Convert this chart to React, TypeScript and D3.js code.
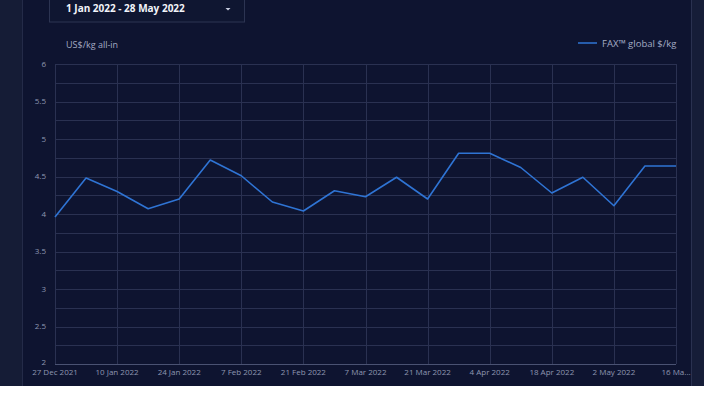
import React, { useEffect, useRef } from 'react';
import * as d3 from 'd3';

const width = 704;
const height = 394;

// weekly readings, starting 27 Dec 2021
const weekStarts = [
  '2021-12-27', '2022-01-03', '2022-01-10', '2022-01-17', '2022-01-24', '2022-01-31',
  '2022-02-07', '2022-02-14', '2022-02-21', '2022-02-28', '2022-03-07', '2022-03-14',
  '2022-03-21', '2022-03-28', '2022-04-04', '2022-04-11', '2022-04-18', '2022-04-25',
  '2022-05-02', '2022-05-09', '2022-05-16'
];
const faxGlobal = [
  3.96, 4.48, 4.30, 4.07, 4.20, 4.72,
  4.51, 4.16, 4.04, 4.31, 4.23, 4.49,
  4.20, 4.81, 4.81, 4.62, 4.28, 4.49,
  4.11, 4.64, 4.64
];
const xTickLabels = [
  '27 Dec 2021', '10 Jan 2022', '24 Jan 2022', '7 Feb 2022', '21 Feb 2022', '7 Mar 2022',
  '21 Mar 2022', '4 Apr 2022', '18 Apr 2022', '2 May 2022', '16 Ma...'
];
const yTicks = [2, 2.5, 3, 3.5, 4, 4.5, 5, 5.5, 6];

const parse = d3.timeParse('%Y-%m-%d');

export default function App() {
  const svgRef = useRef<SVGSVGElement>(null);

  useEffect(() => {
    if (!svgRef.current) return;
    const svg = d3.select(svgRef.current);
    svg.selectAll('*').remove();

    const font = "'Open Sans', 'Noto Sans', sans-serif";
    const margin = { top: 64, right: 28, bottom: 30, left: 55 };
    const innerW = width - margin.left - margin.right;
    const innerH = height - margin.top - margin.bottom;

    // page frame
    svg.append('rect').attr('width', width).attr('height', height).attr('fill', '#ffffff');
    svg.append('rect').attr('width', width).attr('height', 386).attr('fill', '#0e1430');
    svg.append('rect').attr('width', 22).attr('height', 386).attr('fill', '#151c36');
    svg.append('line').attr('x1', 22.5).attr('x2', 22.5).attr('y1', 0).attr('y2', 386)
      .attr('stroke', '#242b48');
    svg.append('rect').attr('x', 692).attr('width', 12).attr('height', 386).attr('fill', '#161d38');
    svg.append('line').attr('x1', 691.5).attr('x2', 691.5).attr('y1', 0).attr('y2', 386)
      .attr('stroke', '#2a3150');

    // date range selector
    svg.append('rect').attr('x', 49.5).attr('y', -2).attr('width', 195).attr('height', 24)
      .attr('fill', '#0f1631').attr('stroke', '#2c3452');
    svg.append('text').attr('x', 66).attr('y', 12).attr('fill', '#f2f4fa')
      .style('font-family', font).style('font-size', '10px').style('font-weight', 700)
      .text('1 Jan 2022 - 28 May 2022');
    svg.append('path').attr('d', 'M225.5,8 L230.5,8 L228,10.5 Z').attr('fill', '#c8cde0');

    svg.append('text').attr('x', 66).attr('y', 48).attr('fill', '#a3abc4')
      .style('font-family', font).style('font-size', '9px').text('US$/kg all-in');

    const dates = weekStarts.map(d => parse(d) as Date);
    const x = d3.scaleTime()
      .domain([dates[0], dates[dates.length - 1]])
      .range([0, innerW]);
    const y = d3.scaleLinear().domain([2, 6]).range([innerH, 0]);

    const g = svg.append('g').attr('transform', `translate(${margin.left},${margin.top})`);

    // horizontal grid every 0.25
    const hGrid = d3.range(2, 6.001, 0.25);
    g.selectAll('.hgrid').data(hGrid).enter().append('line')
      .attr('x1', 0).attr('x2', innerW)
      .attr('y1', d => Math.round(y(d)) + 0.5).attr('y2', d => Math.round(y(d)) + 0.5)
      .attr('stroke', d => (d === 2 ? '#4a5272' : '#2a3151')).attr('stroke-width', 1);

    // vertical grid every 2 weeks
    const vDates = dates.filter((_, i) => i % 2 === 0);
    g.selectAll('.vgrid').data(vDates).enter().append('line')
      .attr('y1', 0).attr('y2', innerH)
      .attr('x1', d => Math.round(x(d)) + 0.5).attr('x2', d => Math.round(x(d)) + 0.5)
      .attr('stroke', '#2a3151');

    // y tick labels
    g.selectAll('.ylab').data(yTicks).enter().append('text')
      .attr('x', -9).attr('y', d => y(d)).attr('dy', d => (d === 2 ? '0.1em' : '0.33em'))
      .attr('text-anchor', 'end').attr('fill', '#8f97b0')
      .style('font-family', font).style('font-size', '8px')
      .text(d => String(d));

    // x tick labels
    g.selectAll('.xlab').data(vDates).enter().append('text')
      .attr('x', d => x(d)).attr('y', innerH + 11)
      .attr('text-anchor', 'middle').attr('fill', '#8f97b0')
      .style('font-family', font).style('font-size', '8px')
      .text((_, i) => xTickLabels[i]);

    // series
    const line = d3.line<number>()
      .x((_, i) => x(dates[i]))
      .y(d => y(d));
    g.append('path').datum(faxGlobal)
      .attr('fill', 'none').attr('stroke', '#2f74d4').attr('stroke-width', 1.6)
      .attr('stroke-linejoin', 'round').attr('d', line);

    // legend
    const lg = svg.append('g').attr('transform', 'translate(578,43)');
    lg.append('line').attr('x1', 0).attr('x2', 19).attr('stroke', '#2f74d4').attr('stroke-width', 1.5);
    lg.append('text').attr('x', 24).attr('y', 3.5).attr('fill', '#a3abc4')
      .style('font-family', font).style('font-size', '9.5px').text('FAX™ global $/kg');
  }, []);

  return (
    <div style={{ position: 'fixed', left: 0, top: 0 }}>
      <svg ref={svgRef} width={width} height={height} style={{ display: 'block' }} />
    </div>
  );
}
